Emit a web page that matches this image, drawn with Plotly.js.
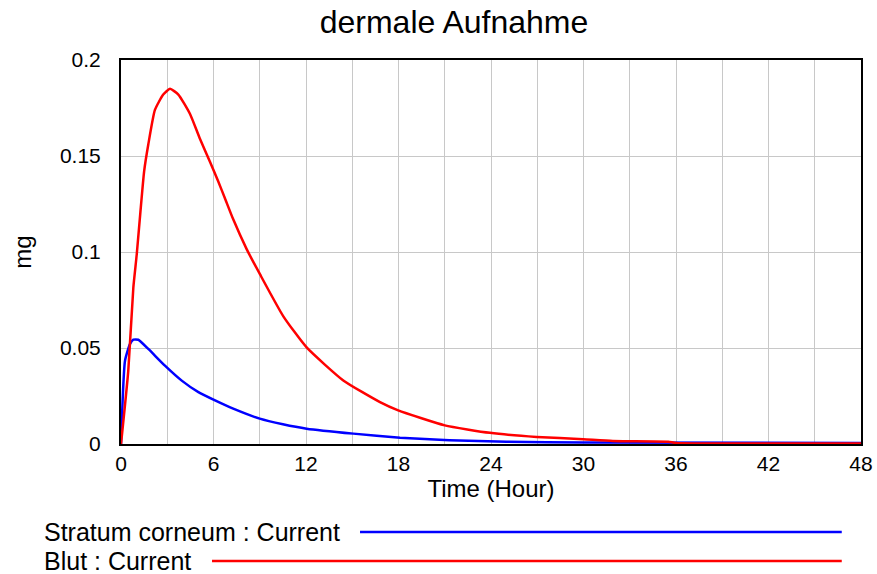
<!DOCTYPE html>
<html>
<head>
<meta charset="utf-8">
<script src="https://cdn.plot.ly/plotly-3.0.1.min.js"></script>
<style>html,body{margin:0;padding:0;background:#fff;}#chart{width:877px;height:574px;}</style>
</head>
<body>
<div id="chart"></div>
<script>
const timeBlut = [0, 0.47, 0.8, 1.02, 1.25, 1.5, 1.77, 2.2, 2.74, 3.18, 3.72, 4.47, 5.12, 5.77, 6.31, 6.74, 7.28, 8.15, 9.02, 10.53, 12.04, 14.42, 16.8, 17.98, 21.0, 23.93, 26.96, 29.98, 31.9, 35.5, 36, 48];
const blut = [0, 0.038, 0.0814, 0.0987, 0.12, 0.142, 0.156, 0.174, 0.182, 0.185, 0.182, 0.172, 0.159, 0.147, 0.1367, 0.128, 0.117, 0.1015, 0.0883, 0.0665, 0.0503, 0.0331, 0.0218, 0.0175, 0.0097, 0.0058, 0.0037, 0.0025, 0.0016, 0.0012, 0.0005, 0.0003];
const timeStratum = [0, 0.26, 0.58, 0.8, 1.12, 1.77, 2.85, 3.94, 5.02, 6.1, 7.28, 9.0, 10.5, 12.04, 15.07, 18.1, 21.3, 25, 30, 48];
const stratum = [0, 0.0434, 0.052, 0.0543, 0.0543, 0.0495, 0.0408, 0.033, 0.027, 0.0227, 0.0184, 0.0132, 0.0103, 0.008, 0.0054, 0.0033, 0.002, 0.0012, 0.0008, 0.0005];
const xTicks = [0, 6, 12, 18, 24, 30, 36, 42, 48];
const yTicks = [0, 0.05, 0.1, 0.15, 0.2];
const yTickText = ["0", "0.05", "0.1", "0.15", "0.2"];
const seriesNames = ["Stratum corneum : Current", "Blut : Current"];
const seriesColors = ["#0000ff", "#ff0000"];

const font = "Liberation Sans, Arial, sans-serif";
const traces = [
  {x: timeStratum, y: stratum, mode: "lines", name: seriesNames[0], line: {color: seriesColors[0], width: 2.5, shape: "spline", smoothing: 0.5}},
  {x: timeBlut, y: blut, mode: "lines", name: seriesNames[1], line: {color: seriesColors[1], width: 2.5, shape: "spline", smoothing: 0.5}}
];
const legY = [-0.229, -0.305];
const legX0 = [0.323, 0.123];
const layout = {
  width: 877, height: 574,
  margin: {l: 121, r: 16, t: 60, b: 130},
  paper_bgcolor: "#fff", plot_bgcolor: "#fff",
  showlegend: false,
  font: {family: font, color: "#000", size: 21},
  title: {text: "dermale Aufnahme", font: {family: font, size: 32, color: "#000"}, x: 0.5177, xanchor: "center", y: 0.962, yanchor: "middle", yref: "container"},
  xaxis: {
    range: [0, 48], tickvals: xTicks, ticks: "",
    showgrid: true, gridcolor: "#c8c8c8", gridwidth: 1,
    minor: {dtick: 3, tick0: 0, showgrid: true, gridcolor: "#c8c8c8", gridwidth: 1},
    showline: true, linecolor: "#000", linewidth: 2, mirror: true, zeroline: false,
    tickfont: {size: 21},
    title: {text: "Time (Hour)", font: {size: 24}, standoff: 2}
  },
  yaxis: {
    range: [0, 0.2], tickvals: yTicks, ticktext: yTickText, ticks: "",
    showgrid: true, gridcolor: "#c8c8c8", gridwidth: 1,
    showline: true, linecolor: "#000", linewidth: 2, mirror: true, zeroline: false,
    tickfont: {size: 21}, ticklabelstandoff: 14,
    title: {text: "mg", font: {size: 24}, standoff: 22}
  },
  annotations: seriesNames.map((n, i) => ({
    text: n, xref: "paper", yref: "paper", x: -0.1068, y: legY[i], xanchor: "left", yanchor: "middle",
    showarrow: false, font: {size: 25, family: font, color: "#000"}
  })),
  shapes: seriesNames.map((n, i) => ({
    type: "line", xref: "paper", yref: "paper", x0: legX0[i], x1: 0.974, y0: legY[i], y1: legY[i],
    line: {color: seriesColors[i], width: 2.5}
  }))
};
Plotly.newPlot("chart", traces, layout, {displayModeBar: false, staticPlot: true});
</script>
</body>
</html>
